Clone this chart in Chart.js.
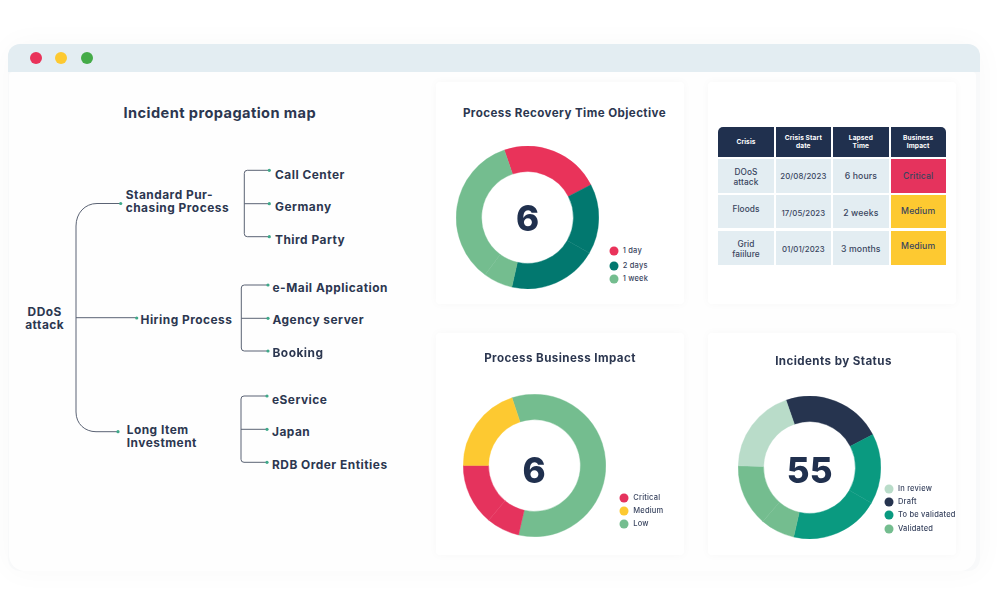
<!DOCTYPE html>
<html lang="en">
<head>
<meta charset="UTF-8">
<title>Incident dashboard</title>
<script src="https://cdn.jsdelivr.net/npm/chart.js"></script>
<style>
html, body { margin: 0; padding: 0; background: #fff; }
body { width: 1003px; height: 595px; position: relative; overflow: hidden; font-family: Inter, "Open Sans", sans-serif; color: #2c3750; }
.abs { position: absolute; }
#frame { left: 8px; top: 44px; width: 972px; height: 527px; border-radius: 12px; background: #f8f9fa; box-shadow: 0 0 30px rgba(40,50,70,.03); }
#bar { left: 8px; top: 44px; width: 972px; height: 28px; border-radius: 12px 12px 0 0; background: #e3edf2; }
#main { left: 9px; top: 72px; width: 967px; height: 499px; border-radius: 4px 4px 16px 16px; background: #fefefe; }
.light { width: 12px; height: 12px; border-radius: 50%; top: 52px; }
.card { background: #fff; border-radius: 4px; width: 248px; height: 222px; box-shadow: 0 0 10px rgba(40,50,70,.03); }
.t { position: absolute; font-weight: 700; white-space: pre; transform: translateY(-50%); letter-spacing: .5px; font-size: 11.9px; line-height: 13.3px; }
.title { font-size: 11.6px; letter-spacing: .42px; transform: translate(-50%,-50%); }
.big { font-size: 35px; font-weight: 800; color: #20304e; transform: translate(-50%,-50%); letter-spacing: 0; line-height: 40px; }
.lg { font-size: 7.5px; font-weight: 500; letter-spacing: .2px; color: #3a4560; line-height: 10px; }
.dot { position: absolute; width: 9px; height: 9px; border-radius: 50%; transform: translate(-50%,-50%); }
.cell { position: absolute; display: flex; align-items: center; justify-content: center; background: #e3edf2; }
.cell span { display: block; text-align: center; font-size: 8.3px; font-weight: 500; line-height: 9.7px; color: #39455e; white-space: pre; letter-spacing: .1px; }
.head { background: #20304e; }
.head span { color: #fff; font-weight: 700; font-size: 6.6px; line-height: 8.6px; }
canvas { position: absolute; }
</style>
</head>
<body>
<div class="abs" id="frame"></div>
<div class="abs" id="main"></div>
<div class="abs" id="bar"></div>
<div class="abs light" style="left:30px;background:#e9335a"></div>
<div class="abs light" style="left:55px;background:#fdc931"></div>
<div class="abs light" style="left:81px;background:#44ab48"></div>

<div class="abs card" style="left:436px;top:82px"></div>
<div class="abs card" style="left:708px;top:82px"></div>
<div class="abs card" style="left:436px;top:333px"></div>
<div class="abs card" style="left:708px;top:333px"></div>

<svg class="abs" id="tree" style="left:0;top:0" width="1003" height="595" fill="none" stroke="#5b6374" stroke-width="1"></svg>

<canvas id="recovery" width="143" height="143" style="left:456px;top:146px"></canvas>
<canvas id="impact" width="143" height="143" style="left:462.7px;top:394px"></canvas>
<canvas id="status" width="143" height="143" style="left:738.2px;top:395.8px"></canvas>

<script>
// ring shares in percent (same label twice = a seam inside that colour)
const recoveryLabels = ['1 day', '2 days', '2 days', '1 week', '1 week'];
const recoveryValues = [22.7, 15.9, 20.2, 6.6, 34.6];
const recoveryLegend = ['1 day', '2 days', '1 week'];
const recoveryTotal = '6';

const impactLabels = ['Low', 'Critical', 'Critical', 'Medium'];
const impactValues = [58.7, 7.5, 13.9, 19.9];
const impactLegend = ['Critical', 'Medium', 'Low'];
const impactTotal = '6';

const statusLabels = ['Draft', 'To be validated', 'To be validated', 'Validated', 'Validated', 'In review'];
const statusValues = [22.7, 15.9, 20.3, 7.8, 14, 19.3];
const statusLegend = ['In review', 'Draft', 'To be validated', 'Validated'];
const statusTotal = '55';

const tableHeader = ['Crisis', 'Crisis Start\ndate', 'Lapsed\nTime', 'Business\nImpact'];
const tableCrisis = ['DOoS\nattack', 'Floods', 'Grid\nfaiilure'];
const tableStart = ['20/08/2023', '17/05/2023', '01/01/2023'];
const tableLapsed = ['6 hours', '2 weeks', '3 months'];
const tableImpact = ['Critical', 'Medium', 'Medium'];

const colors = {
    '1 day': '#e9335a', '2 days': '#02786f', '1 week': '#74bd8f',
    'Critical': '#e5335d', 'Medium': '#fdc931', 'Low': '#74bd8f',
    'In review': '#b9dcc9', 'Draft': '#26344f', 'To be validated': '#0a9a80', 'Validated': '#74bd8f'
};

function text(str, x, y, cls) {
    const el = document.createElement('div');
    el.className = 't ' + (cls || '');
    el.textContent = str;
    el.style.left = x + 'px';
    el.style.top = y + 'px';
    document.body.appendChild(el);
    return el;
}

function ring(id, labels, values, rotation) {
    const fills = labels.map(l => colors[l]);
    new Chart(document.getElementById(id), {
        type: 'doughnut',
        data: {
            labels: labels,
            datasets: [{
                data: values,
                backgroundColor: fills,
                borderColor: fills,
                borderWidth: 0.4
            }]
        },
        options: {
            responsive: false,
            animation: false,
            cutout: '64.4%',
            rotation: rotation,
            plugins: { legend: { display: false }, tooltip: { enabled: false } }
        }
    });
}

function legend(names, dotX, textX, ys) {
    names.forEach((name, i) => {
        const dot = document.createElement('div');
        dot.className = 'dot';
        dot.style.left = dotX + 'px';
        dot.style.top = ys[i] + 'px';
        dot.style.background = colors[name];
        document.body.appendChild(dot);
        text(name, textX, ys[i], 'lg');
    });
}

ring('recovery', recoveryLabels, recoveryValues, -19);
ring('impact', impactLabels, impactValues, -18.4);
ring('status', statusLabels, statusValues, -19.2);

text(recoveryTotal, 527.5, 217.5, 'big');
text(impactTotal, 534, 469.5, 'big');
text(statusTotal, 809.7, 469.5, 'big');

legend(recoveryLegend, 614, 622.7, [251, 265.5, 278.7]);
legend(impactLegend, 624.3, 633.3, [498, 511, 524.3]);
legend(statusLegend, 889, 898, [489, 501.7, 515.3, 528.7]);

text('Process Recovery Time Objective', 564.5, 114, 'title');
text('Process Business Impact', 560, 359, 'title');
text('Incidents by Status', 833.5, 362, 'title');
const mapTitle = text('Incident propagation map', 219.8, 114, 'title');
mapTitle.style.fontSize = '14.6px';

// table
const colX = [718.3, 775.7, 833, 890.7];
const colW = [55.4, 55.3, 55.7, 55];
const rowY = [159.3, 195, 231.3];
const impactFill = { Critical: '#e5335d', Medium: '#fdc931' };

function cell(str, c, y, h, cls, fill, shift, size) {
    const el = document.createElement('div');
    el.className = 'cell ' + (cls || '');
    const inner = document.createElement('span');
    inner.textContent = str;
    if (shift) inner.style.transform = `translateY(${shift}px)`;
    if (size) inner.style.fontSize = size + 'px';
    el.appendChild(inner);
    el.style.left = colX[c] + 'px';
    el.style.width = colW[c] + 'px';
    el.style.top = y + 'px';
    el.style.height = h + 'px';
    if (fill) el.style.background = fill;
    document.body.appendChild(el);
    return el;
}

tableHeader.forEach((h, c) => {
    const el = cell(h, c, 127.3, 30, 'head');
    if (c === 0) el.style.borderTopLeftRadius = '5px';
    if (c === 3) el.style.borderTopRightRadius = '5px';
});
const crisisShift = [2, -2.5, 2];
const dateShift = [1, 1.5, 1.5];
const impactShift = [1, -0.5, -1.5];
tableCrisis.forEach((name, r) => {
    cell(name, 0, rowY[r], 33.4, '', null, crisisShift[r]);
    cell(tableStart[r], 1, rowY[r], 33.4, '', null, dateShift[r], 7.8);
    cell(tableLapsed[r], 2, rowY[r], 33.4, '', null, dateShift[r], 8.7);
    cell(tableImpact[r], 3, rowY[r], 33.4, '', impactFill[tableImpact[r]], impactShift[r], 8.7);
});

// propagation tree
const tree = document.getElementById('tree');
function path(d) {
    const p = document.createElementNS('http://www.w3.org/2000/svg', 'path');
    p.setAttribute('d', d);
    tree.appendChild(p);
}
function node(x, y) {
    const c = document.createElementNS('http://www.w3.org/2000/svg', 'circle');
    c.setAttribute('cx', x);
    c.setAttribute('cy', y);
    c.setAttribute('r', 1.6);
    c.setAttribute('fill', '#3fa98a');
    c.setAttribute('stroke', 'none');
    tree.appendChild(c);
}
function bracket(x, top, mid, bot, end) {
    path(`M${end} ${top}H${x + 3}Q${x} ${top} ${x} ${top + 3}V${bot - 3}Q${x} ${bot} ${x + 3} ${bot}H${end}`);
    path(`M${x} ${mid}H${end}`);
    node(end, top); node(end, mid); node(end, bot);
}
path('M120.7 203.5H97C85 203.5 76 213 76 226V412C76 424 85 431.7 96 431.7H118');
path('M76 317.7H136.7');
node(120.7, 203.5); node(136.7, 318); node(118, 431.7);
bracket(244.3, 170.3, 203.7, 236.7, 269.3);
bracket(241.3, 285, 318.3, 351, 268);
bracket(241, 396, 429.3, 462.3, 267);

text('Standard Pur-\nchasing Process', 125.7, 200.5);
text('Call Center', 275, 174.5);
text('Germany', 275, 206.5);
text('Third Party', 275, 239.5);
text('DDoS', 44.7, 311.5).style.transform = 'translate(-50%,-50%)';
text('attack', 44.7, 325).style.transform = 'translate(-50%,-50%)';
text('Hiring Process', 140.5, 319.5);
text('e-Mail Application', 272.5, 287.5);
text('Agency server', 272.5, 319.5);
text('Booking', 272.5, 352.5);
text('Long Item\nInvestment', 126.7, 436);
text('eService', 272, 399.5);
text('Japan', 272, 431.5);
text('RDB Order Entities', 272, 464.5);
</script>
</body>
</html>
